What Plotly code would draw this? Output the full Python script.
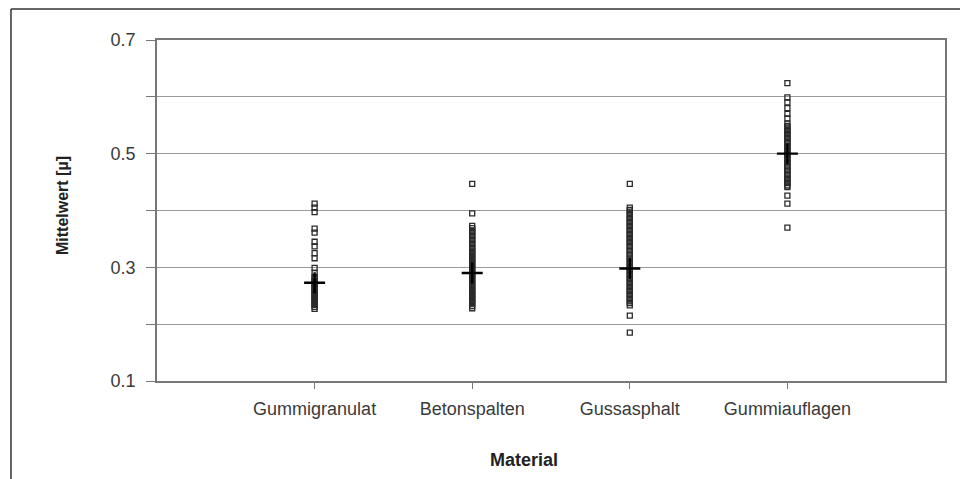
import plotly.graph_objects as go

categories = ["Gummigranulat", "Betonspalten", "Gussasphalt", "Gummiauflagen"]

gummigranulat = [0.412, 0.405, 0.397, 0.368, 0.361, 0.345, 0.337, 0.325, 0.316, 0.299,
                 0.290, 0.283, 0.2795, 0.276, 0.2725, 0.269, 0.2655, 0.262, 0.2585, 0.255,
                 0.2515, 0.248, 0.2445, 0.241, 0.2375, 0.234, 0.2305, 0.227]
betonspalten = [0.447, 0.395, 0.373, 0.369, 0.365, 0.362, 0.358, 0.355, 0.351, 0.348,
                0.344, 0.341, 0.337, 0.334, 0.330, 0.327, 0.323, 0.320, 0.316, 0.313,
                0.309, 0.306, 0.302, 0.299, 0.295, 0.292, 0.288, 0.285, 0.281, 0.278,
                0.274, 0.271, 0.267, 0.264, 0.260, 0.257, 0.253, 0.250, 0.246, 0.243,
                0.239, 0.236, 0.232, 0.228]
gussasphalt = [0.447, 0.405, 0.401, 0.398, 0.394, 0.391, 0.387, 0.384, 0.380, 0.377,
               0.373, 0.370, 0.366, 0.363, 0.359, 0.356, 0.352, 0.349, 0.345, 0.342,
               0.338, 0.335, 0.331, 0.328, 0.324, 0.321, 0.317, 0.314, 0.310, 0.307,
               0.303, 0.300, 0.296, 0.293, 0.289, 0.286, 0.282, 0.279, 0.275, 0.272,
               0.268, 0.265, 0.261, 0.258, 0.254, 0.251, 0.247, 0.244, 0.240, 0.237,
               0.233, 0.215, 0.185]
gummiauflagen = [0.624, 0.599, 0.590, 0.580, 0.570, 0.562, 0.553, 0.549, 0.546, 0.542,
                 0.539, 0.535, 0.532, 0.528, 0.525, 0.521, 0.518, 0.514, 0.511, 0.507,
                 0.504, 0.500, 0.497, 0.493, 0.490, 0.486, 0.483, 0.479, 0.476, 0.472,
                 0.469, 0.465, 0.462, 0.458, 0.455, 0.451, 0.448, 0.444, 0.441, 0.426,
                 0.412, 0.370]
means = [0.273, 0.290, 0.298, 0.500]

series = [gummigranulat, betonspalten, gussasphalt, gummiauflagen]

y_tickvals = [0.1, 0.2, 0.3, 0.4, 0.5, 0.6, 0.7]
y_ticktext = ["0.1", "", "0.3", "", "0.5", "", "0.7"]

FONT = "Liberation Sans, Arial, sans-serif"

fig = go.Figure()
for cat, vals in zip(categories, series):
    fig.add_trace(go.Scatter(
        x=[cat] * len(vals), y=vals, mode="markers",
        marker=dict(symbol="square-open", size=5, color="#2a2a2a", line=dict(width=1.3)),
        showlegend=False, hoverinfo="y"))

fig.add_trace(go.Scatter(
    x=categories, y=means, mode="markers",
    marker=dict(symbol="cross-thin", size=15, color="#000000", line=dict(width=2.4, color="#000000")),
    showlegend=False))

# page body has an 8px margin: figure is shrunk and shifted so the plot area lands at the same pixels
fig.update_layout(
    width=960, height=471,
    margin=dict(l=149, r=23, t=32, b=98),
    paper_bgcolor="white", plot_bgcolor="white",
    font=dict(family=FONT, size=18, color="#333333"),
    xaxis=dict(type="category", categoryorder="array", categoryarray=categories,
               range=[-1, 4], showgrid=False, zeroline=False,
               showline=True, linecolor="#777777", linewidth=1.5, mirror=True,
               ticks="outside", ticklen=6, tickcolor="#777777",
               ticklabelstandoff=5,
               tickfont=dict(family=FONT, size=18, color="#3a3a3a")),
    yaxis=dict(range=[0.1, 0.7], tickmode="array", tickvals=y_tickvals, ticktext=y_ticktext,
               showgrid=True, gridcolor="#9a9a9a", gridwidth=1, zeroline=False,
               showline=True, linecolor="#777777", linewidth=1.5, mirror=True,
               ticks="outside", ticklen=9, tickcolor="#777777",
               ticklabelstandoff=7,
               tickfont=dict(family=FONT, size=18, color="#3a3a3a")),
    shapes=[
        dict(type="line", xref="paper", yref="paper", x0=-0.1853, x1=-0.1853, y0=1.091, y1=-0.3,
             line=dict(color="#333333", width=1.5)),
        dict(type="line", xref="paper", yref="paper", x0=-0.1853, x1=1.04, y0=1.091, y1=1.091,
             line=dict(color="#333333", width=1.5)),
    ],
    annotations=[
        dict(text="<b>Mittelwert [µ]</b>", xref="paper", yref="paper", x=-0.1206, y=0.516,
             textangle=-90, showarrow=False, xanchor="center", yanchor="middle",
             font=dict(family=FONT, size=16, color="#222222")),
        dict(text="<b>Material</b>", xref="paper", yref="paper", x=0.466, y=-0.232,
             showarrow=False, xanchor="center", yanchor="middle",
             font=dict(family=FONT, size=18, color="#222222")),
    ],
)

fig.write_html("out.html")
